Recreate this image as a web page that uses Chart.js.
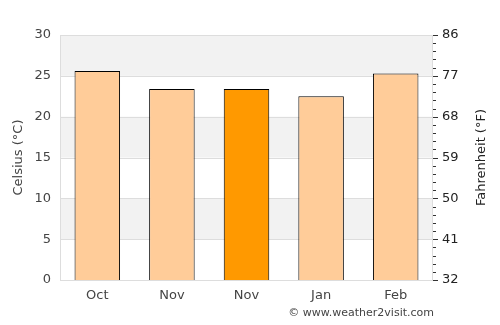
<!DOCTYPE html>
<html><head><meta charset="utf-8">
<script src="https://cdn.jsdelivr.net/npm/chart.js@4/dist/chart.umd.min.js"></script>
<style>html,body{margin:0;padding:0;background:#fff}#wrap{width:500px;height:325px}</style>
</head><body><div id="wrap"><canvas id="c" width="500" height="325"></canvas></div>
<script>
const categories = ["Oct","Nov","Nov","Jan","Feb"];
const celsius = [25.6, 23.4, 23.4, 22.5, 25.3];
const barColors = ["#ffcc99","#ffcc99","#ff9900","#ffcc99","#ffcc99"];
const celsiusTicks = [0,5,10,15,20,25,30];
const fahrenheitTicks = [32,41,50,59,68,77,86];
const credit = "© www.weather2visit.com";
const leftTitle = "Celsius (°C)";
const rightTitle = "Fahrenheit (°F)";

const FONT = "'DejaVu Sans', sans-serif";

const decor = {
  id: 'decor',
  beforeDatasetsDraw(chart) {
    const {ctx, chartArea: a, scales} = chart;
    const y = scales.y;
    ctx.save();
    for (let i = 0; i < celsiusTicks.length - 1; i++) {
      const lo = celsiusTicks[i], hi = celsiusTicks[i+1];
      const top = y.getPixelForValue(hi), bot = y.getPixelForValue(lo);
      if (i % 2 === 1) { ctx.fillStyle = '#f2f2f2'; ctx.fillRect(a.left, top, a.right - a.left, bot - top); }
    }
    ctx.strokeStyle = '#dddddd'; ctx.lineWidth = 1;
    celsiusTicks.forEach(v => {
      const p = Math.round(y.getPixelForValue(v)) + 0.5;
      ctx.beginPath(); ctx.moveTo(a.left, p); ctx.lineTo(a.right, p); ctx.stroke();
    });
    ctx.beginPath();
    ctx.moveTo(Math.round(a.left) + 0.5, a.top); ctx.lineTo(Math.round(a.left) + 0.5, a.bottom);
    ctx.moveTo(Math.round(a.right) - 0.5, a.top); ctx.lineTo(Math.round(a.right) - 0.5, a.bottom);
    ctx.stroke();
    ctx.restore();
  },
  afterDraw(chart) {
    const {ctx, chartArea: a, scales} = chart;
    const y = scales.y;
    ctx.save();
    ctx.strokeStyle = '#333'; ctx.lineWidth = 1;
    for (let v = 0; v <= 30; v++) {
      const p = Math.round(y.getPixelForValue(v)) + 0.5;
      const len = (v % 5 === 0) ? 5 : 3;
      ctx.beginPath(); ctx.moveTo(a.right, p); ctx.lineTo(a.right + len, p); ctx.stroke();
    }
    ctx.fillStyle = '#444'; ctx.font = '11px ' + FONT;
    ctx.textAlign = 'right'; ctx.textBaseline = 'middle';
    ctx.fillText(credit, 434, 313);
    const midY = (a.top + a.bottom) / 2;
    ctx.font = '13px ' + FONT; ctx.textAlign = 'center';
    ctx.fillStyle = '#444';
    ctx.save(); ctx.translate(19, midY); ctx.rotate(-Math.PI/2); ctx.fillText(leftTitle, 0, 0); ctx.restore();
    ctx.fillStyle = '#222';
    ctx.save(); ctx.translate(482, midY); ctx.rotate(-Math.PI/2); ctx.fillText(rightTitle, 0, 0); ctx.restore();
    ctx.restore();
  }
};

new Chart(document.getElementById('c'), {
  type: 'bar',
  data: {
    labels: categories,
    datasets: [{
      data: celsius,
      backgroundColor: barColors,
      borderColor: '#000',
      borderWidth: 1,
      borderSkipped: 'bottom',
      categoryPercentage: 1,
      barPercentage: 0.61,
      yAxisID: 'y'
    }]
  },
  options: {
    responsive: false,
    animation: false,
    events: [],
    layout: { padding: { top: 35, bottom: 0, left: 0, right: 0 } },
    plugins: { legend: { display: false }, tooltip: { enabled: false } },
    scales: {
      x: {
        grid: { display: false, drawTicks: false },
        border: { display: false },
        ticks: { color: '#444', font: { family: FONT, size: 13 }, padding: 8 },
        afterFit(s) { s.height = 45; }
      },
      y: {
        position: 'left', min: 0, max: 30,
        afterBuildTicks(s) { s.ticks = celsiusTicks.map(v => ({value: v})); },
        grid: { display: false, drawTicks: false },
        border: { display: false },
        ticks: { color: '#444', font: { family: FONT, size: 13 }, padding: 9 },
        afterFit(s) { s.width = 60; }
      },
      y2: {
        position: 'right', min: 32, max: 86,
        afterBuildTicks(s) { s.ticks = fahrenheitTicks.map(v => ({value: v})); },
        grid: { display: false, drawTicks: false },
        border: { display: false },
        ticks: { color: '#222', font: { family: FONT, size: 13 }, padding: 9 },
        afterFit(s) { s.width = 67; }
      }
    }
  },
  plugins: [decor]
});
</script></body></html>
